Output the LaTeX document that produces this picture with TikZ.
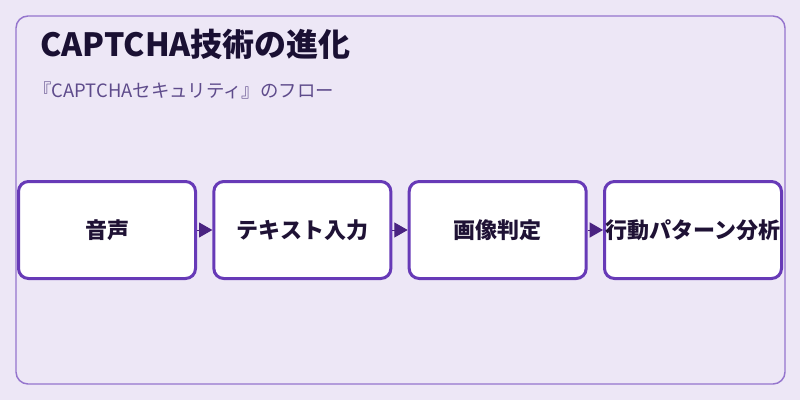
\documentclass[tikz,border=0pt]{standalone}
\usepackage{fontspec}
\setmainfont{Noto Sans CJK JP}
\usetikzlibrary{
	arrows.meta,positioning,calc
}
\definecolor{pagebg}{HTML}{EDE7F6}
\definecolor{framecol}{HTML}{9575CD}
\definecolor{boxcol}{HTML}{673AB7}
\definecolor{arrowcol}{HTML}{4A2381}
\definecolor{titlecol}{HTML}{1A1033}
\definecolor{subcol}{HTML}{5E4B8B}
\definecolor{labelcol}{HTML}{1F1235}
\tikzset{
	auto,
	stage/.style={
		rectangle, minimum width=132.75pt, minimum height=72.75pt, rounded corners=7.5pt,
		line width=2.25pt, draw=boxcol, fill=white, inner sep=0pt,
		text=labelcol, font=\fontsize{16.5pt}{18pt}\selectfont\bfseries
	},
	%
	flow/.style={
		-{Triangle[length=10pt, width=11.25pt]}, line width=0.75pt, draw=arrowcol, fill=arrowcol
	},
	%
	outerframe/.style={
		rounded corners=9pt, line width=1.1pt, draw=framecol
	}
}

\begin{document}
\begin{tikzpicture}[x=0.75pt, y=-0.75pt, node distance=11.5pt]
    \fill[pagebg] (0,0) rectangle (800,400);
    \useasboundingbox (0,0) rectangle (800,400);
    \draw[outerframe] (16,16) rectangle (785,384);
    \node(title)[anchor=base west, text=titlecol, inner sep=0pt,
        font=\fontsize{24pt}{26pt}\selectfont\bfseries] at (40,56) {CAPTCHA技術の進化};
    \node(subtitle)[anchor=base west, text=subcol, inner sep=0pt,
        font=\fontsize{13.8pt}{15pt}\selectfont] at (33,97) {『CAPTCHAセキュリティ』のフロー};
    \node(audio)[stage, anchor=west] at (17,230) {音声};
    \node(textin)[stage, right=of audio]{テキスト入力};
    \node(image)[stage, right=of textin]{画像判定};
    \node(behave)[stage, right=of image]{行動パターン分析};
    \draw[flow] (audio) -- (textin);
    \draw[flow] (textin) -- (image);
    \draw[flow] (image) -- (behave);
\end{tikzpicture}
\end{document}
